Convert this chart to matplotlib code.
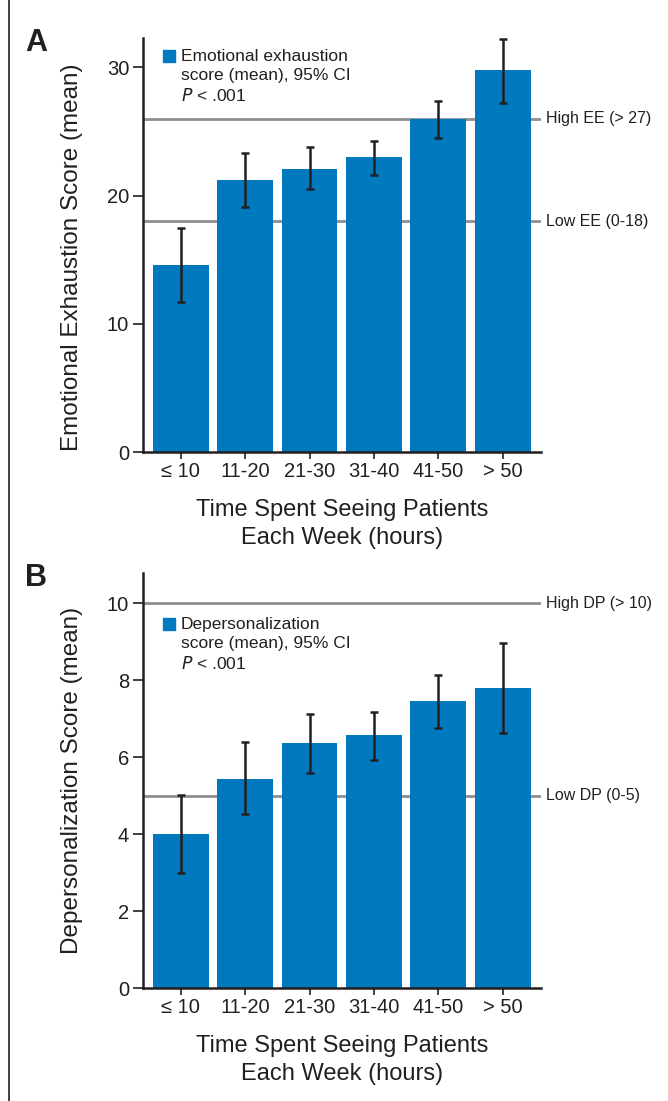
import matplotlib
matplotlib.use("Agg")
import matplotlib.pyplot as plt
from matplotlib.patches import Rectangle
from matplotlib.lines import Line2D
import numpy as np

# ---- data ----
categories = ["\u2264 10", "11-20", "21-30", "31-40", "41-50", "> 50"]

ee_mean = [14.6, 21.2, 22.1, 23.0, 26.0, 29.8]
ee_lo = [11.7, 19.1, 20.5, 21.6, 24.5, 27.2]
ee_hi = [17.5, 23.3, 23.8, 24.3, 27.4, 32.2]
ee_refs = [26, 18]
ee_ref_labels = ["High EE (> 27)", "Low EE (0-18)"]
ee_ticks = [0, 10, 20, 30]

dp_mean = [4.0, 5.43, 6.36, 6.57, 7.45, 7.79]
dp_lo = [2.99, 4.52, 5.58, 5.92, 6.75, 6.62]
dp_hi = [5.01, 6.39, 7.12, 7.18, 8.13, 8.96]
dp_refs = [10, 5]
dp_ref_labels = ["High DP (> 10)", "Low DP (0-5)"]
dp_ticks = [0, 2, 4, 6, 8, 10]

plt.rcParams['font.family'] = ['Liberation Sans', 'DejaVu Sans']

BLUE = "#0079BF"
DARK = "#231F20"
GRAY = "#8F8F8F"

W, H = 668, 1101
fig = plt.figure(figsize=(W / 100, H / 100), dpi=100)

def fx(px):
    return px / W

def fy(py):
    return 1 - py / H

def panel(top_px, bot_px, means, lo, hi, refs, ref_labels, ticks, ylim_top,
          ylabel, ylabel_y, letter, legend_lines, sq_top_px, text_top_px):
    left_px, right_px = 143, 541
    ax = fig.add_axes([fx(left_px), fy(bot_px), fx(right_px - left_px),
                       (bot_px - top_px) / H])
    x = np.arange(len(categories))
    means = np.array(means)
    yerr = np.array([means - np.array(lo), np.array(hi) - means])
    for r in refs:
        ax.axhline(r, color=GRAY, lw=2, zorder=1)
    ax.bar(x, means, width=0.868, color=BLUE, zorder=2)
    ax.errorbar(x, means, yerr=yerr, fmt='none', ecolor=DARK, elinewidth=1.8,
                capsize=3.2, capthick=1.8, zorder=3)
    for r, lab in zip(refs, ref_labels):
        ax.text(1.012, r, lab, transform=ax.get_yaxis_transform(),
                ha='left', va='center', fontsize=11.5, color=DARK)
    ax.set_xlim(-0.589, 5.597)
    ax.set_ylim(0, ylim_top)
    ax.set_xticks(x)
    ax.set_xticklabels(categories)
    ax.set_yticks(ticks)
    for s in ['top', 'right']:
        ax.spines[s].set_visible(False)
    for s in ['left', 'bottom']:
        ax.spines[s].set_color(DARK)
        ax.spines[s].set_linewidth(1.8)
    ax.tick_params(axis='y', length=7, width=1.2, colors=DARK, labelsize=14.5, pad=3)
    ax.tick_params(axis='x', length=5, width=1.2, colors=DARK, labelsize=14.5, pad=2)
    ax.set_ylabel(ylabel, fontsize=17.5, color=DARK)
    ax.yaxis.set_label_coords(-0.15, ylabel_y)
    ax.set_xlabel("Time Spent Seeing Patients\nEach Week (hours)", fontsize=17,
                  color=DARK, labelpad=13, linespacing=1.35)
    # legend
    axh = bot_px - top_px
    axw = right_px - left_px
    ax.add_patch(Rectangle(((163 - left_px) / axw, (bot_px - sq_top_px - 12) / axh),
                           12 / axw, 12 / axh, transform=ax.transAxes,
                           color=BLUE, clip_on=False, zorder=4))
    ax.text((181 - left_px) / axw, (bot_px - text_top_px) / axh,
            legend_lines, transform=ax.transAxes, ha='left', va='top',
            fontsize=12.5, color=DARK, linespacing=1.32)
    fig.text(fx(36), fy(top_px + 5), letter, fontsize=22, fontweight='bold',
             color=DARK, ha='center', va='center')
    return ax

panel(38, 452, ee_mean, ee_lo, ee_hi, ee_refs, ee_ref_labels, ee_ticks, 32.3,
      "Emotional Exhaustion Score (mean)", 0.47, "A",
      "Emotional exhaustion\nscore (mean), 95% CI\n$P$ < .001", 50, 49)
panel(573, 988, dp_mean, dp_lo, dp_hi, dp_refs, dp_ref_labels, dp_ticks, 10.78,
      "Depersonalization Score (mean)", 0.5, "B",
      "Depersonalization\nscore (mean), 95% CI\n$P$ < .001", 618, 617)

fig.add_artist(Line2D([fx(8.5), fx(8.5)], [0, 1], color=DARK, lw=1.2))

fig.savefig("out.png", dpi=100, facecolor='white')
